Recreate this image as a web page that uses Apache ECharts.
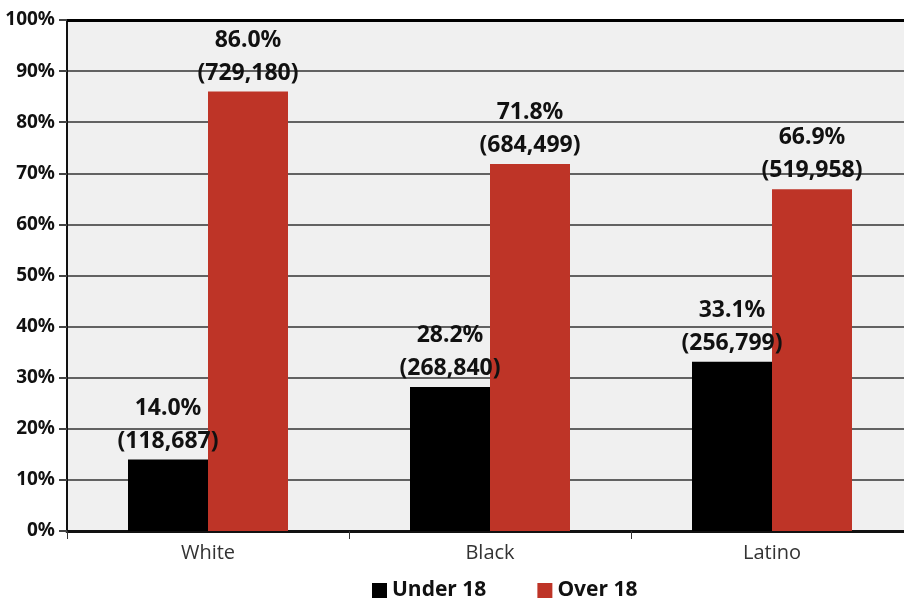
<!DOCTYPE html>
<html>
<head>
<meta charset="utf-8">
<script src="https://cdn.jsdelivr.net/npm/echarts@6/dist/echarts.min.js"></script>
<style>
html,body{margin:0;padding:0;background:#fff;}
#main{width:904px;height:604px;}
</style>
</head>
<body>
<div id="main"></div>
<script>
//数据
var categories = ['White', 'Black', 'Latino'];
var underPct = [14.0, 28.2, 33.1];
var overPct = [86.0, 71.8, 66.9];
var underCount = ['118,687', '268,840', '256,799'];
var overCount = ['729,180', '684,499', '519,958'];
var seriesNames = ['Under 18', 'Over 18'];

var boldFont = '"Noto Sans", sans-serif';

function barLabel(counts){
	return {
		show: true,
		position: 'top',
		distance: 2,
		formatter: function(p){
			return '{a|' + p.value.toFixed(1) + '%}\n{a|(' + counts[p.dataIndex] + ')}';
		},
		rich: {
			a: {
				fontFamily: boldFont,
				fontWeight: 'bold',
				fontSize: 23,
				lineHeight: 33,
				color: '#111'
			}
		}
	};
}

var myChart = echarts.init(document.getElementById('main'));
var option = {
	animation: false,
	grid: {
		left: 67,
		right: -9,
		top: 20,
		bottom: 73,
		outerBoundsMode: 'none',
		show: true,
		backgroundColor: '#f0f0f0',
		borderWidth: 0
	},
	legend: {
		top: 580,
		left: 372,
		padding: 0,
		itemWidth: 15,
		itemHeight: 15,
		itemGap: 51,
		icon: 'rect',
		textStyle: {
			fontFamily: '"Open Sans", sans-serif',
			fontWeight: 'bold',
			fontSize: 21,
			color: '#111'
		},
		data: seriesNames
	},
	xAxis: {
		type: 'category',
		data: categories,
		axisLine: { lineStyle: { color: '#111', width: 3 } },
		axisTick: { show: true, length: 8, lineStyle: { color: '#333', width: 1 } },
		axisLabel: {
			fontFamily: '"Open Sans", sans-serif',
			fontSize: 20,
			color: '#333',
			margin: 12
		}
	},
	yAxis: {
		type: 'value',
		min: 0,
		max: 100,
		interval: 10,
		axisLine: { show: true, lineStyle: { color: '#111', width: 2 } },
		axisTick: { show: true, length: 8, lineStyle: { color: '#444', width: 2 } },
		axisLabel: {
			formatter: '{value}%',
			fontFamily: boldFont,
			fontWeight: 'bold',
			fontSize: 19,
			color: '#111',
			margin: 12
		},
		splitLine: { lineStyle: { color: '#333', width: 1.5 } }
	},
	series: [
		{
			name: seriesNames[0],
			type: 'bar',
			data: underPct,
			barWidth: 80,
			barGap: '0%',
			itemStyle: { color: '#000000' },
			label: barLabel(underCount),
			markLine: {
				silent: true,
				symbol: 'none',
				label: { show: false },
				lineStyle: { color: '#000', width: 3, type: 'solid' },
				data: [{ yAxis: 100 }]
			}
		},
		{
			name: seriesNames[1],
			type: 'bar',
			data: overPct,
			barWidth: 80,
			barGap: '0%',
			itemStyle: { color: '#be3427' },
			label: barLabel(overCount)
		}
	]
};
myChart.setOption(option);
</script>
</body>
</html>
